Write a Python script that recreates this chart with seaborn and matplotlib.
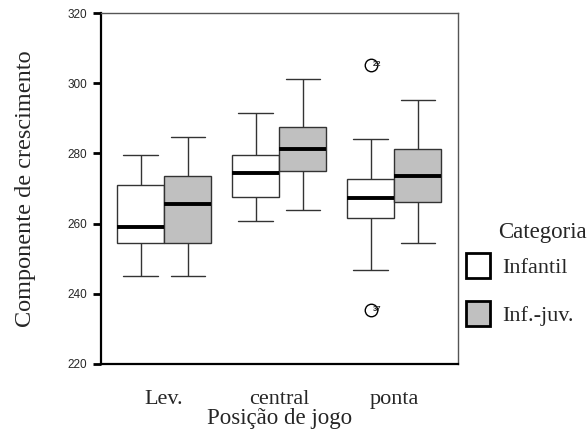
import numpy as np
import pandas as pd
import matplotlib
matplotlib.use("Agg")
import matplotlib.pyplot as plt
import seaborn as sns
from matplotlib.patches import Patch

# ---- data ----
positions = ["Lev.", "central", "ponta"]
categories = ["Infantil", "Inf.-juv."]
# five-number summaries: lower whisker, Q1, median, Q3, upper whisker
infantil_stats = [
    [245.1, 254.5, 258.9, 271.0, 279.6],
    [260.6, 267.5, 274.5, 279.6, 291.6],
    [246.7, 261.5, 267.4, 272.7, 284.0],
]
infjuv_stats = [
    [245.1, 254.5, 265.7, 273.5, 284.7],
    [264.0, 275.1, 281.3, 287.4, 301.1],
    [254.5, 266.2, 273.5, 281.3, 295.2],
]
# outliers (position, category, value, case label)
outlier_pos = ["ponta", "ponta"]
outlier_cat = ["Infantil", "Infantil"]
outlier_val = [305.2, 235.5]
outlier_lbl = ["22", "37"]
yticks = [220, 240, 260, 280, 300, 320]

# ---- build a long table from the summaries ----
rows = []
for cat, stats in zip(categories, [infantil_stats, infjuv_stats]):
    for pos, (lo, q1, med, q3, hi) in zip(positions, stats):
        outs = [v for p, c, v in zip(outlier_pos, outlier_cat, outlier_val)
                if p == pos and c == cat]
        if outs:
            outs_sorted = sorted(outs)
            vals = [outs_sorted[0], lo, q1, (q1 + med) / 2, med,
                    (med + q3) / 2, q3, hi, outs_sorted[-1]]
        else:
            vals = [lo, q1, med, q3, hi]
        for v in vals:
            rows.append({"pos": pos, "cat": cat, "val": v})
df = pd.DataFrame(rows)

sns.set_style("white")
plt.rcParams["font.family"] = ["Liberation Serif", "DejaVu Serif"]

fig = plt.figure(figsize=(5.87, 4.37), dpi=100)
ax = fig.add_axes([100.7 / 587, 1 - 364 / 437, 357 / 587, 351 / 437])

box_w = 0.82
sns.boxplot(
    data=df, x="pos", y="val", hue="cat", order=positions, hue_order=categories,
    palette=["white", "#c0c0c0"], width=box_w, gap=0, whis=1.5,
    linecolor="#333333", linewidth=1.0, capwidths=0.30,
    medianprops=dict(color="black", linewidth=2.8),
    whiskerprops=dict(color="#333333", linewidth=1.0),
    capprops=dict(color="#333333", linewidth=1.0),
    flierprops=dict(marker="o", markerfacecolor="none", markeredgecolor="black",
                    markersize=9, markeredgewidth=1.0),
    legend=False, ax=ax,
)

# outlier case labels
for p, c, v, lbl in zip(outlier_pos, outlier_cat, outlier_val, outlier_lbl):
    xi = positions.index(p) + (categories.index(c) - 0.5) * box_w / 2
    ax.annotate(lbl, (xi, v), xytext=(1.5, 0), textcoords="offset points",
                fontsize=5.5, family="Liberation Sans", va="center", ha="left",
                fontweight="bold")

ax.set_ylim(220, 320)
ax.set_xlim(-0.552, 2.552)
ax.set_yticks(yticks)
ax.set_yticklabels([str(t) for t in yticks], family="Liberation Sans", fontsize=8.5)
ax.tick_params(axis="y", direction="out", length=6, width=2, color="black", pad=4, left=True)
ax.tick_params(axis="x", length=0, pad=19, labelsize=16)

for s in ["left", "bottom"]:
    ax.spines[s].set_color("black")
    ax.spines[s].set_linewidth(1.6)
for s in ["top", "right"]:
    ax.spines[s].set_color("#555555")
    ax.spines[s].set_linewidth(1.0)

ax.set_ylabel("Componente de crescimento", fontsize=17.5)
ax.yaxis.set_label_coords(-0.212, 0.5)
ax.set_xlabel("Posição de jogo", fontsize=16.5)
ax.xaxis.set_label_coords(0.5, -0.155)
ax.xaxis.label.set_va("center")
ax.yaxis.label.set_va("center")

# legend
handles = [Patch(facecolor=c, edgecolor="black", linewidth=2)
           for c in ["white", "#c0c0c0"]]
ax.legend(handles, categories, loc="upper left", bbox_to_anchor=(1.022, 0.316),
          frameon=False, fontsize=16, handlelength=1.12, handleheight=1.36,
          handletextpad=0.55, labelspacing=1.02, borderpad=0, borderaxespad=0)
fig.text(498 / 587, 1 - 233 / 437, "Categoria", fontsize=16.5, ha="left", va="center")

fig.savefig("out.png", dpi=100)
